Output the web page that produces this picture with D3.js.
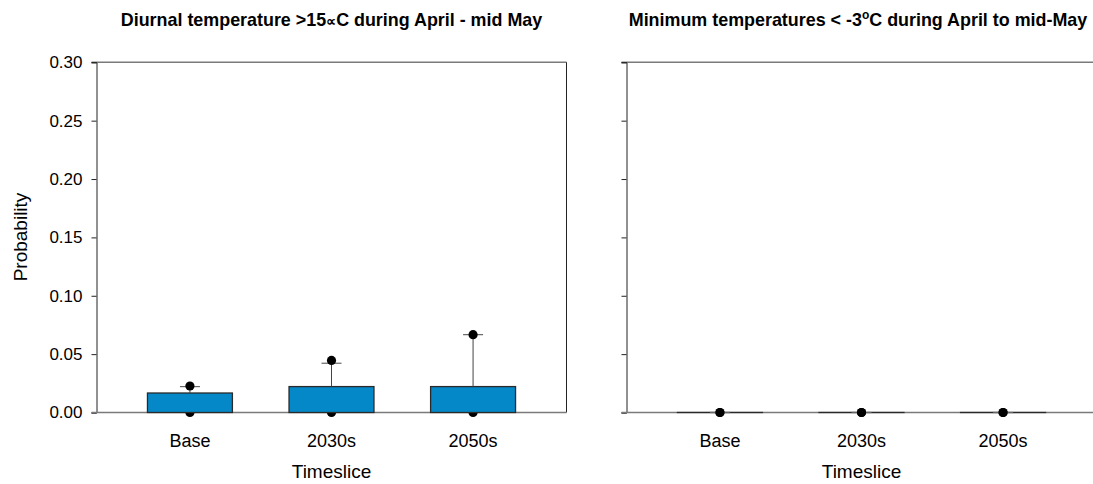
<!DOCTYPE html>
<html>
<head>
<meta charset="utf-8">
<script src="https://cdn.jsdelivr.net/npm/d3@7"></script>
<style>
  html, body { margin: 0; padding: 0; background: #fff; }
  svg { display: block; }
  text { font-family: "Liberation Sans", Arial, sans-serif; fill: #000; }
</style>
</head>
<body>
<svg id="chart" width="1093" height="484"></svg>
<script>
// ---- data ----
const categories = ["Base", "2030s", "2050s"];
const yTicks = [0, 0.05, 0.10, 0.15, 0.20, 0.25, 0.30];

// Panel 1: Diurnal temperature >15 during April - mid May
const p1Mean = [0.0167, 0.0222, 0.0222];
const p1Whisker = [0.0222, 0.0422, 0.0667];
const p1MaxPoint = [0.0227, 0.0446, 0.0667];
const p1MinPoint = [0, 0, 0];

// Panel 2: Minimum temperatures < -3 during April to mid-May
const p2Mean = [0, 0, 0];
const p2Whisker = [0, 0, 0];
const p2MaxPoint = [0, 0, 0];
const p2MinPoint = [0, 0, 0];

const svg = d3.select("#chart");

const yTop = 62.3, yBot = 412.5;
const y = d3.scaleLinear().domain([0, 0.30]).range([yBot, yTop]);

const panels = [
  { x0: 96.5, x1: 566.5, mean: p1Mean, whisker: p1Whisker, maxP: p1MaxPoint, minP: p1MinPoint, labels: true },
  { x0: 626.5, x1: 1096.5, mean: p2Mean, whisker: p2Whisker, maxP: p2MaxPoint, minP: p2MinPoint, labels: false }
];

panels.forEach((p, pi) => {
  const g = svg.append("g");
  const x = d3.scaleBand().domain(categories).range([p.x0, p.x1])
    .paddingInner(0.4).paddingOuter(0.36);
  const bw = x.bandwidth();
  const cx = c => x(c) + bw / 2;

  g.append("line").attr("x1", p.x0 - 5).attr("x2", p.x1).attr("y1", yTop).attr("y2", yTop)
    .attr("stroke", "#7a7a7a").attr("stroke-width", 1.5);
  g.append("line").attr("x1", p.x1).attr("x2", p.x1).attr("y1", yTop).attr("y2", yBot)
    .attr("stroke", "#222").attr("stroke-width", 1);

  const yAxis = d3.axisLeft(y).tickValues(yTicks).tickSize(5).tickPadding(9)
    .tickFormat(p.labels ? d3.format(".2f") : () => "");
  const ya = g.append("g").attr("transform", `translate(${p.x0},0)`).call(yAxis);
  ya.select(".domain").attr("stroke", "#222");
  ya.selectAll(".tick line").attr("stroke", "#222");
  ya.selectAll(".tick text").attr("font-size", 17).attr("font-family", "Liberation Sans, Arial, sans-serif").attr("fill", "#000");

  const xAxis = d3.axisBottom(x).tickSize(0).tickPadding(22);
  const xa = g.append("g").attr("transform", `translate(0,${yBot})`).call(xAxis);
  xa.select(".domain").remove();
  xa.selectAll(".tick text").attr("font-size", 18).attr("font-family", "Liberation Sans, Arial, sans-serif").attr("fill", "#000");

  g.append("line").attr("x1", p.x0 - 5).attr("x2", p.x1).attr("y1", yBot).attr("y2", yBot)
    .attr("stroke", "#7a7a7a").attr("stroke-width", 1.5);

  g.selectAll(".minp").data(categories).enter().append("circle")
    .attr("cx", c => cx(c)).attr("cy", (c, i) => y(p.minP[i])).attr("r", 4.6).attr("fill", "#000");

  g.selectAll(".bar").data(categories).enter().append("rect")
    .attr("x", c => x(c)).attr("width", bw)
    .attr("y", (c, i) => Math.min(y(p.mean[i]), yBot - 0.01))
    .attr("height", (c, i) => Math.max(0.01, y(0) - y(p.mean[i])))
    .attr("fill", "#0588c8").attr("stroke", "#2a2a2a").attr("stroke-width", 1.3);

  g.selectAll(".wh").data(categories).enter().append("line")
    .attr("x1", c => cx(c)).attr("x2", c => cx(c))
    .attr("y1", (c, i) => y(p.mean[i])).attr("y2", (c, i) => y(p.whisker[i]))
    .attr("stroke", "#444").attr("stroke-width", 1);
  g.selectAll(".cap").data(categories).enter().append("line")
    .attr("x1", c => cx(c) - 10).attr("x2", c => cx(c) + 10)
    .attr("y1", (c, i) => y(p.whisker[i])).attr("y2", (c, i) => y(p.whisker[i]))
    .attr("stroke", "#666").attr("stroke-width", 1.2);

  g.selectAll(".maxp").data(categories).enter().append("circle")
    .attr("cx", c => cx(c)).attr("cy", (c, i) => y(p.maxP[i])).attr("r", 4.6).attr("fill", "#000");

  g.append("text").attr("x", (p.x0 + p.x1) / 2).attr("y", 478)
    .attr("text-anchor", "middle").attr("font-size", 19).text("Timeslice");
});

svg.append("text").attr("transform", "translate(27,237) rotate(-90)")
  .attr("text-anchor", "middle").attr("font-size", 19).text("Probability");

const t1 = svg.append("text").attr("x", (panels[0].x0 + panels[0].x1) / 2).attr("y", 26).attr("text-anchor", "middle")
  .attr("font-size", 17.9).attr("font-weight", "bold");
t1.append("tspan").text("Diurnal temperature >15");
t1.append("tspan").attr("font-size", 14).text("\u221D");
t1.append("tspan").text("C during April - mid May");

const t2 = svg.append("text").attr("x", 858).attr("y", 26).attr("text-anchor", "middle")
  .attr("font-size", 17.9).attr("font-weight", "bold");
t2.append("tspan").text("Minimum temperatures < -3");
t2.append("tspan").attr("font-size", 12).attr("dy", -7).text("o");
t2.append("tspan").attr("dy", 7).text("C during April to mid-May");
</script>
</body>
</html>
